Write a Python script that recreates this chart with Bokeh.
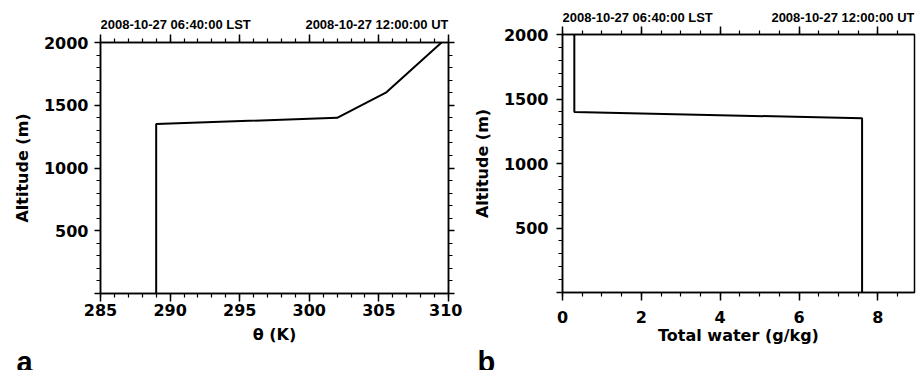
from bokeh.plotting import figure
from bokeh.models import LinearAxis, SingleIntervalTicker, Range1d, CustomJSTickFormatter
from bokeh.layouts import row, column
from bokeh.core.properties import value
from bokeh.embed import file_html
from bokeh.resources import INLINE

# ---- data ----
theta = [289.0, 289.0, 302.0, 305.5, 309.5]
theta_alt = [0, 1350, 1400, 1600, 2000]
water = [7.6, 7.6, 0.3, 0.3]
water_alt = [0, 1350, 1400, 2000]
lst_label = "2008-10-27 06:40:00  LST"
ut_label = "2008-10-27 12:00:00 UT"
theta_title = "θ (K)"
water_title = "Total water (g/kg)"
alt_title = "Altitude (m)"

TICK_FONT = "DejaVu Sans"
TOP_FONT = "Liberation Sans"


def style_axis(ax, major_out, minor_out, labels=True, tick_standoff=4, label_standoff=8):
    ax.axis_line_color = "black"
    ax.axis_line_width = 1.5
    ax.major_tick_line_color = "black"
    ax.minor_tick_line_color = "black"
    ax.major_tick_line_width = 1.5
    ax.minor_tick_line_width = 1.2
    ax.major_tick_in = 0
    ax.minor_tick_in = 0
    ax.major_tick_out = major_out
    ax.minor_tick_out = minor_out
    ax.major_label_text_font = TICK_FONT
    ax.major_label_text_font_style = "bold"
    ax.major_label_text_font_size = "16px"
    ax.major_label_text_color = "black"
    ax.major_label_standoff = tick_standoff
    ax.axis_label_text_font = TICK_FONT
    ax.axis_label_text_font_style = "bold"
    ax.axis_label_text_font_size = "16px"
    ax.axis_label_text_color = "black"
    ax.axis_label_standoff = label_standoff
    if not labels:
        ax.formatter = CustomJSTickFormatter(code="return ''")
        ax.major_label_text_font_size = "1px"
        ax.major_label_standoff = 0


def base_fig(x0, x1, y0, y1, frame_w, frame_h, top, bottom, left, right):
    f = figure(frame_width=frame_w, frame_height=frame_h, title=None,
               x_range=Range1d(x0, x1), y_range=Range1d(y0, y1),
               output_backend="svg", toolbar_location=None,
               min_border_left=left, min_border_right=right,
               min_border_top=top, min_border_bottom=bottom,
               x_axis_location=None, y_axis_location=None)
    f.xgrid.visible = False
    f.ygrid.visible = False
    f.outline_line_color = None
    f.background_fill_color = "white"
    f.border_fill_color = "white"
    return f


def top_strip(x0, x1, frame_w, h, left, right, base_y):
    s = base_fig(x0, x1, h, 0, frame_w, h, 0, 0, left, right)
    s.text(x=[x0], y=[base_y], text=[lst_label], text_align="left",
           text_baseline="alphabetic", text_font=value(TOP_FONT),
           text_font_style="bold", text_font_size="13px", text_color="black")
    s.text(x=[x1], y=[base_y], text=[ut_label], text_align="right",
           text_baseline="alphabetic", text_font=value(TOP_FONT),
           text_font_style="bold", text_font_size="13px", text_color="black")
    return s


def letter_strip(w, h, letter, lx, base_y):
    # free-standing strip whose frame covers the whole strip
    s = base_fig(0, w, h, 0, w, h, 0, 0, 0, 0)
    if "frame_align" in s.properties():
        s.frame_align = False
    s.text(x=[lx], y=[base_y], text=[letter], text_align="left",
           text_baseline="alphabetic", text_font=value(TOP_FONT),
           text_font_style="bold", text_font_size="29px", text_color="black")
    return s


def panel(xs, ys, x0, x1, frame_w, frame_h, top, bottom, left, right,
          x_step, x_minor, xlabel, right_ticks,
          x_tick_standoff, x_label_standoff, y_tick_standoff, y_label_standoff):
    p = base_fig(x0, x1, 0, 2000, frame_w, frame_h, top, bottom, left, right)
    p.outline_line_color = "black"
    p.outline_line_width = 1.5

    xt = lambda: SingleIntervalTicker(interval=x_step, num_minor_ticks=x_minor)
    yt = lambda: SingleIntervalTicker(interval=500, num_minor_ticks=5)

    bx = LinearAxis(ticker=xt(), axis_label=xlabel)
    style_axis(bx, 8, 4, tick_standoff=x_tick_standoff, label_standoff=x_label_standoff)
    p.add_layout(bx, "below")

    tx = LinearAxis(ticker=xt())
    style_axis(tx, 8, 4, labels=False)
    p.add_layout(tx, "above")

    ly = LinearAxis(ticker=yt(), axis_label=alt_title,
                    major_label_overrides={0: ""})
    style_axis(ly, 6, 4, tick_standoff=y_tick_standoff, label_standoff=y_label_standoff)
    p.add_layout(ly, "left")

    if right_ticks:
        ry = LinearAxis(ticker=yt())
        style_axis(ry, 6, 4, labels=False)
        p.add_layout(ry, "right")

    p.line(xs, ys, line_color="black", line_width=2)
    return p


# column a : frame x 100..448 (348), y 42..293 (251)
ta = top_strip(285, 310, 348, 32, 100, 14, 24)
pa = panel(theta, theta_alt, 285, 310, 348, 251, 10, 55, 100, 14,
           5, 5, theta_title, True, 2, 6, 6, 9)
la = letter_strip(462, 22, "a", 16, 13)

# column b : frame x 562..914 (352), y 34..292 (258)
tb = top_strip(0, 8.93, 352, 24, 100, 3, 17)
pb = panel(water, water_alt, 0, 8.93, 352, 258, 10, 56, 100, 3,
           2, 4, water_title, False, 10, 0, 8, 9)
lb = letter_strip(455, 22, "b", 15, 13)

layout = row(column(ta, pa, la), column(tb, pb, lb))
open("out.html", "w").write(file_html(layout, INLINE))
